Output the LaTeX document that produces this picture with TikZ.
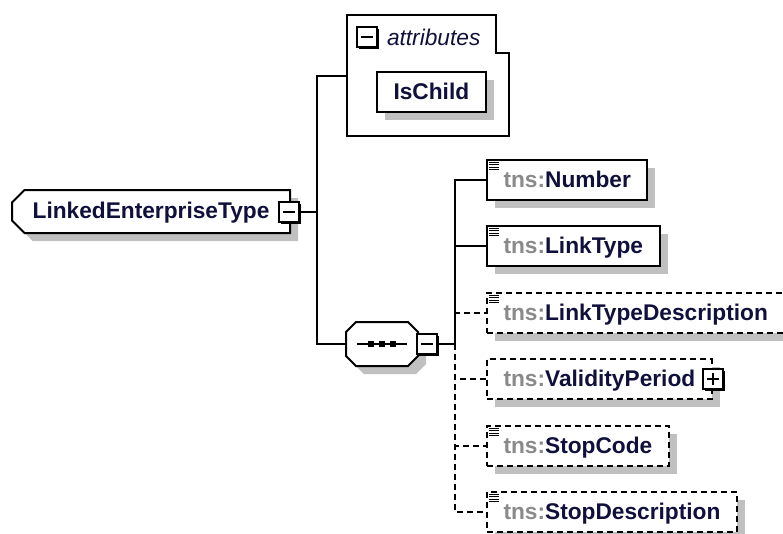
\documentclass[tikz,border=0pt]{standalone}
\usepackage{fontspec}
\setmainfont{Liberation Sans}
\usetikzlibrary{shapes.misc,shadows}

\definecolor{shadowgray}{RGB}{192,192,192}
\definecolor{tnsgray}{RGB}{138,138,138}
\definecolor{ink}{RGB}{16,16,60}

\begin{document}
\begin{tikzpicture}[x=1pt,y=-1pt,line width=2pt]
      \tikzstyle{lbl} = [font=\fontsize{22.7}{27}\selectfont\bfseries,text=ink,text height=16pt,text depth=2pt]
      \tikzstyle{shadowed} = [drop shadow={shadow xshift=8pt,shadow yshift=-8pt,fill=shadowgray,opacity=1}]
      \tikzstyle{elem} = [lbl,shadowed,draw,fill=white,anchor=west,minimum height=40pt,inner xsep=16.5pt,inner ysep=0pt]
      \tikzstyle{optelem} = [elem,dash pattern=on 6pt off 4pt]
      \tikzstyle{optwire} = [dash pattern=on 6pt off 4pt]
      \tikzstyle{model} = [shadowed,draw,fill=white,chamfered rectangle,chamfered rectangle xsep=10pt,inner sep=0pt]
      \tikzstyle{toggle} = [draw,fill=white,minimum size=20pt,inner sep=0pt,drop shadow={shadow xshift=2pt,shadow yshift=-2pt,fill=black,opacity=1}]
      \tikzstyle{minus} = [toggle,path picture={\draw ([xshift=4pt]path picture bounding box.west) -- ([xshift=-4pt]path picture bounding box.east);}]
      \tikzstyle{plus} = [toggle,path picture={\draw ([xshift=4pt]path picture bounding box.west) -- ([xshift=-4pt]path picture bounding box.east) ([yshift=-4pt]path picture bounding box.north) -- ([yshift=4pt]path picture bounding box.south);}]

      \useasboundingbox (0,0) rectangle (783,533);

      \node[model,lbl,chamfered rectangle corners={north west,south west},minimum width=278pt,minimum height=43pt] (root) at (151,211.5) {LinkedEnterpriseType\hspace{18pt}};
      \node[minus] (rootx) at (289,212) {};

      \node[minimum width=160pt,minimum height=119pt,inner sep=0pt,anchor=north west] (attr) at (347,15) {};
      \draw (attr.south west) |- ([xshift=-13pt]attr.north east) -- ++(0,38) -| (attr.south east) -- cycle;
      \node[minus] (attrx) at (367,37) {};
      \node[font=\fontsize{22.7}{27}\selectfont\itshape,text=ink,anchor=west,inner sep=0pt] (attrlbl) at (386,37) {attributes};
      \node[elem] (ischild) at (376,92) {IsChild};

      \node[minimum width=70pt,minimum height=42pt,inner sep=0pt] (seq) at (382,344) {};
      \def\seqpath{([xshift=10pt]seq.north west) -- ([xshift=-10pt]seq.north east) -- ([yshift=-10pt]seq.north east) -- ([yshift=10pt]seq.south east) -- ([xshift=-10pt]seq.south east) -- ([xshift=10pt]seq.south west) -- ([yshift=10pt]seq.south west) -- ([yshift=-10pt]seq.north west) -- cycle}
      \fill[shadowgray,transform canvas={shift={(8pt,-8pt)}}] \seqpath;
      \draw[fill=white] \seqpath;
      \draw (seq.center) +(-25,0) -- +(25,0);
      \foreach \d in {-11,0,11} \fill ([xshift=\d pt]seq.center) +(-3,-3) rectangle +(3,3);
      \node[minus] (seqx) at (427,344) {};

      \coordinate (rootbus) at (317,212);
      \coordinate (seqbus) at (455,344);
      \draw (rootx.east) -- (rootbus);
      \draw (attr.west) -| (rootbus) |- (seq.west);
      \draw (seqx.east) -- (seqbus);

      \def\items{num/Number/elem/solid/0,ltype/LinkType/elem/solid/0,ldesc/LinkTypeDescription/optelem/optwire/0,valid/ValidityPeriod/optelem/optwire/8,scode/StopCode/optelem/optwire/0,sdesc/StopDescription/optelem/optwire/0}
      \foreach \n/\t/\k/\w/\g
      [count=\i from 0,
      evaluate= \i as \y using {round(180+66.4*\i)}]
      in \items {
        \node[\k] (\n) at (486,\y) {\textcolor{tnsgray}{tns:}\t\hspace{\g pt}};
        \draw[\w] (seqbus) |- (\n.west);
        \ifnum\g=0
          \foreach \j in {0,...,3} \draw[line width=1pt] ([shift={(3,3.5+2.3*\j)}]\n.north west) -- ++(10,0);
        \fi
      }
      \node[plus] (validx) at (valid.east) {};

    \end{tikzpicture}
\end{document}
